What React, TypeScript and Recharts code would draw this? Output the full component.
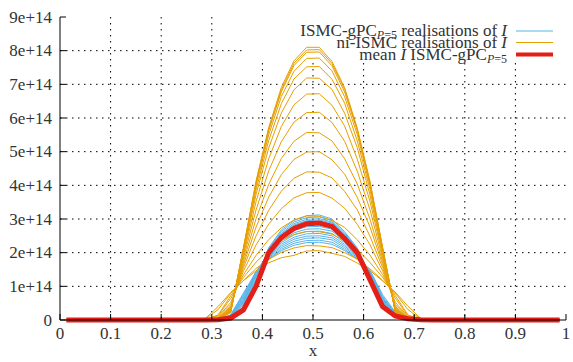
import React from 'react';
import { LineChart, Line, XAxis, YAxis, CartesianGrid } from 'recharts';

// x positions (cell centres)
const xs = [0.0125, 0.0375, 0.0625, 0.0875, 0.1125, 0.1375, 0.1625, 0.1875, 0.2125, 0.2375,
  0.2625, 0.2875, 0.3125, 0.3375, 0.3625, 0.3875, 0.4125, 0.4375, 0.4625, 0.4875,
  0.5125, 0.5375, 0.5625, 0.5875, 0.6125, 0.6375, 0.6625, 0.6875, 0.7125, 0.7375,
  0.7625, 0.7875, 0.8125, 0.8375, 0.8625, 0.8875, 0.9125, 0.9375, 0.9625, 0.9875];

// values (units of 1e14) for x = 0.2875 ... 0.7375; zero elsewhere
const FIRST = 11;

const ismcGpc = [
  [0, 0.01, 0.05, 0.28, 1.05, 2.15, 2.68, 2.96, 3.10, 3.12, 3.00, 2.62, 2.14, 1.25, 0.38, 0.08, 0.02, 0, 0],
  [0, 0.01, 0.08, 0.45, 1.15, 2.12, 2.63, 2.91, 3.04, 3.06, 2.95, 2.58, 2.12, 1.30, 0.45, 0.10, 0.02, 0, 0],
  [0, 0.01, 0.06, 0.35, 1.08, 2.10, 2.58, 2.86, 2.99, 3.01, 2.91, 2.55, 2.10, 1.22, 0.42, 0.12, 0.03, 0, 0],
  [0, 0.02, 0.10, 0.55, 1.30, 2.08, 2.55, 2.82, 2.95, 2.97, 2.88, 2.52, 2.08, 1.35, 0.52, 0.14, 0.03, 0, 0],
  [0, 0.01, 0.07, 0.40, 1.12, 2.06, 2.52, 2.79, 2.92, 2.93, 2.85, 2.50, 2.05, 1.28, 0.44, 0.10, 0.02, 0, 0],
  [0, 0.02, 0.12, 0.62, 1.38, 2.04, 2.48, 2.75, 2.88, 2.89, 2.81, 2.47, 2.03, 1.40, 0.58, 0.16, 0.03, 0, 0],
  [0, 0.01, 0.08, 0.38, 1.10, 2.00, 2.44, 2.71, 2.83, 2.84, 2.76, 2.44, 2.00, 1.26, 0.46, 0.12, 0.02, 0, 0],
  [0, 0.02, 0.13, 0.68, 1.42, 1.98, 2.40, 2.66, 2.77, 2.78, 2.70, 2.40, 1.98, 1.42, 0.62, 0.18, 0.04, 0, 0],
  [0, 0.01, 0.09, 0.48, 1.20, 1.95, 2.35, 2.59, 2.70, 2.71, 2.64, 2.35, 1.95, 1.32, 0.50, 0.13, 0.03, 0, 0],
  [0, 0.02, 0.14, 0.72, 1.45, 1.93, 2.30, 2.53, 2.63, 2.64, 2.57, 2.30, 1.93, 1.45, 0.66, 0.20, 0.04, 0, 0],
  [0, 0.02, 0.10, 0.52, 1.25, 1.90, 2.25, 2.46, 2.56, 2.57, 2.50, 2.25, 1.90, 1.36, 0.55, 0.15, 0.03, 0, 0],
  [0, 0.02, 0.15, 0.75, 1.40, 1.88, 2.20, 2.40, 2.49, 2.50, 2.44, 2.20, 1.88, 1.46, 0.70, 0.22, 0.05, 0, 0],
  [0, 0.02, 0.11, 0.58, 1.30, 1.85, 2.15, 2.34, 2.43, 2.44, 2.38, 2.15, 1.85, 1.40, 0.60, 0.16, 0.03, 0, 0],
  [0, 0.02, 0.16, 0.80, 1.42, 1.82, 2.10, 2.28, 2.36, 2.37, 2.31, 2.10, 1.82, 1.48, 0.75, 0.24, 0.05, 0, 0],
  [0, 0.02, 0.12, 0.62, 1.35, 1.80, 2.06, 2.22, 2.30, 2.31, 2.25, 2.06, 1.80, 1.42, 0.65, 0.18, 0.04, 0, 0],
];

const niIsmc = [
  [0, 0.02, 0.22, 2.14, 4.13, 5.72, 6.91, 7.70, 8.10, 8.10, 7.68, 6.90, 5.70, 4.12, 2.16, 0.24, 0.02, 0, 0],
  [0, 0.02, 0.24, 2.13, 4.09, 5.66, 6.84, 7.63, 8.02, 8.03, 7.62, 6.85, 5.65, 4.10, 2.15, 0.25, 0.02, 0, 0],
  [0, 0.02, 0.25, 2.12, 4.06, 5.62, 6.78, 7.56, 7.95, 7.96, 7.55, 6.77, 5.63, 4.07, 2.13, 0.26, 0.02, 0, 0],
  [0, 0.02, 0.26, 2.09, 3.98, 5.50, 6.64, 7.39, 7.77, 7.78, 7.40, 6.63, 5.51, 3.99, 2.10, 0.27, 0.02, 0, 0],
  [0, 0.03, 0.28, 2.05, 3.87, 5.33, 6.43, 7.16, 7.52, 7.53, 7.15, 6.44, 5.32, 3.88, 2.06, 0.29, 0.03, 0, 0],
  [0, 0.03, 0.30, 1.99, 3.73, 5.11, 6.15, 6.84, 7.19, 7.18, 6.85, 6.14, 5.12, 3.72, 2.00, 0.31, 0.03, 0, 0],
  [0, 0.03, 0.32, 1.92, 3.52, 4.79, 5.75, 6.39, 6.71, 6.72, 6.38, 5.76, 4.78, 3.53, 1.93, 0.33, 0.03, 0, 0],
  [0, 0.04, 0.34, 1.83, 3.27, 4.43, 5.30, 5.88, 6.16, 6.17, 5.87, 5.31, 4.42, 3.28, 1.84, 0.35, 0.04, 0, 0],
  [0, 0.05, 0.37, 1.73, 3.01, 4.03, 4.80, 5.31, 5.57, 5.56, 5.32, 4.79, 4.04, 3.00, 1.74, 0.38, 0.05, 0, 0],
  [0, 0.06, 0.40, 1.64, 2.76, 3.65, 4.32, 4.77, 4.99, 5.00, 4.76, 4.33, 3.64, 2.77, 1.65, 0.41, 0.06, 0, 0],
  [0, 0.08, 0.45, 1.55, 2.50, 3.26, 3.83, 4.21, 4.40, 4.39, 4.22, 3.82, 3.27, 2.49, 1.56, 0.46, 0.08, 0, 0],
  [0, 0.10, 0.52, 1.45, 2.23, 2.85, 3.31, 3.63, 3.78, 3.79, 3.62, 3.32, 2.84, 2.24, 1.46, 0.53, 0.10, 0, 0],
  [0.01, 0.13, 0.64, 1.34, 1.92, 2.39, 2.74, 2.97, 3.09, 3.08, 2.96, 2.75, 2.38, 1.93, 1.35, 0.65, 0.13, 0.01, 0],
  [0.02, 0.15, 0.72, 1.26, 1.72, 2.08, 2.36, 2.54, 2.63, 2.62, 2.55, 2.35, 2.09, 1.71, 1.27, 0.73, 0.15, 0.02, 0],
  [0.03, 0.31, 0.79, 1.17, 1.53, 1.80, 2.01, 2.14, 2.21, 2.20, 2.15, 2.00, 1.81, 1.52, 1.18, 0.80, 0.31, 0.03, 0],
  [0.05, 0.40, 0.82, 1.17, 1.46, 1.70, 1.85, 1.92, 2.05, 2.06, 1.98, 1.89, 1.69, 1.47, 1.16, 0.83, 0.41, 0.05, 0],
];

const meanIsmcGpc = [0, 0.01, 0.06, 0.30, 1.00, 2.00, 2.45, 2.72, 2.86, 2.88, 2.78, 2.42, 2.00, 1.20, 0.40, 0.12, 0.04, 0.01, 0];

const xTicks = [0, 0.1, 0.2, 0.3, 0.4, 0.5, 0.6, 0.7, 0.8, 0.9, 1];
const xTickLabels = ['0', '0.1', '0.2', '0.3', '0.4', '0.5', '0.6', '0.7', '0.8', '0.9', '1'];
const yTicks = [0, 1, 2, 3, 4, 5, 6, 7, 8, 9];
const yTickLabels = ['0', '1e+14', '2e+14', '3e+14', '4e+14', '5e+14', '6e+14', '7e+14', '8e+14', '9e+14'];

const BLUE = '#56b4e9';
const ORANGE = '#e69f00';
const RED = '#e41f17';
const TEXT = '#333333';
const FONT = "'Liberation Serif', 'Times New Roman', serif";
const FS = 17;

const pad = (vals: number[], i: number) => {
  const j = i - FIRST;
  return j >= 0 && j < vals.length ? vals[j] : 0;
};

const rows = xs.map((x, i) => {
  const r: Record<string, number> = { x };
  ismcGpc.forEach((s, k) => { r['b' + k] = pad(s, i); });
  niIsmc.forEach((s, k) => { r['o' + k] = pad(s, i); });
  r.mean = pad(meanIsmcGpc, i);
  return r;
});

// key box (opaque) hides grid in the top-right area
const KEY_LEFT = 245;
const KEY_BOTTOM = 63;
const PLOT = { left: 60, right: 566, top: 17, bottom: 320 };

const gridStyle = { stroke: '#000', strokeWidth: 1, strokeDasharray: '1.5 4.5' };

const HLine = (p: any) => {
  if (Math.abs(p.y1 - PLOT.top) < 1 || Math.abs(p.y1 - PLOT.bottom) < 1) return <g key={p.key} />;
  const x2 = p.y1 < KEY_BOTTOM ? KEY_LEFT : p.x2;
  return <line key={p.key} x1={p.x1} y1={p.y1} x2={x2} y2={p.y2} {...gridStyle} />;
};
const VLine = (p: any) => {
  if (Math.abs(p.x1 - PLOT.left) < 1 || Math.abs(p.x1 - PLOT.right) < 1) return <g key={p.key} />;
  const y1 = p.x1 > KEY_LEFT ? KEY_BOTTOM : p.y1;
  return <line key={p.key} x1={p.x1} y1={y1} x2={p.x2} y2={p.y2} {...gridStyle} />;
};

const BottomTick = (p: any) => (
  <g>
    <line x1={p.x} y1={p.y} x2={p.x} y2={p.y - 6} stroke="#000" />
    <text x={p.x} y={p.y + 19} textAnchor="middle" fontFamily={FONT} fontSize={FS} fill={TEXT}>
      {xTickLabels[xTicks.indexOf(p.payload.value)]}
    </text>
  </g>
);
const TopTick = (p: any) => (
  <line x1={p.x} y1={p.y} x2={p.x} y2={p.y + 6} stroke="#000" />
);
const LeftTick = (p: any) => (
  <g>
    <line x1={p.x} y1={p.y} x2={p.x + 6} y2={p.y} stroke="#000" />
    <text x={p.x - 8} y={p.y + 5.5} textAnchor="end" fontFamily={FONT} fontSize={FS} fill={TEXT}>
      {yTickLabels[yTicks.indexOf(p.payload.value)]}
    </text>
  </g>
);
const RightTick = (p: any) => (
  <line x1={p.x} y1={p.y} x2={p.x - 6} y2={p.y} stroke="#000" />
);

const Legend = () => (
  <svg width={573} height={70} style={{ position: 'absolute', left: 0, top: 0 }}>
    <g fontFamily={FONT} fontSize={FS} fill={TEXT}>
      <text x={507} y={36} textAnchor="end">
        ISMC-gPC<tspan fontSize={12} dy={3}><tspan fontStyle="italic">P</tspan>=5</tspan>
        <tspan dy={-3}> realisations of </tspan><tspan fontStyle="italic">I</tspan>
      </text>
      <text x={507} y={47.5} textAnchor="end">
        ni-ISMC realisations of <tspan fontStyle="italic">I</tspan>
      </text>
      <text x={507} y={59.5} textAnchor="end">
        mean <tspan fontStyle="italic">I</tspan> ISMC-gPC<tspan fontSize={12} dy={3}><tspan fontStyle="italic">P</tspan>=5</tspan>
      </text>
    </g>
    <line x1={516} y1={31} x2={553} y2={31} stroke={BLUE} strokeWidth={1} />
    <line x1={516} y1={42.5} x2={553} y2={42.5} stroke={ORANGE} strokeWidth={1} />
    <line x1={516} y1={54.5} x2={553} y2={54.5} stroke={RED} strokeWidth={4} />
  </svg>
);

export default function App() {
  return (
    <div style={{ position: 'absolute', left: 0, top: 0, width: 573, height: 362, background: '#fff' }}>
      <LineChart width={573} height={362} data={rows} margin={{ top: 17, right: 7, bottom: 0, left: 0 }}>
        <CartesianGrid horizontal={HLine} vertical={VLine} />
        <XAxis dataKey="x" type="number" domain={[0, 1]} ticks={xTicks} interval={0} height={42}
          tickSize={0} tickMargin={0} tickLine={false} tick={BottomTick} axisLine={{ stroke: '#000' }}
          label={{ value: 'x', position: 'insideBottom', offset: 6, fill: TEXT, fontSize: FS, fontFamily: FONT }} />
        <XAxis xAxisId="top" orientation="top" dataKey="x" type="number" domain={[0, 1]} ticks={xTicks}
          interval={0} height={0} tickSize={0} tickMargin={0} tickLine={false} tick={TopTick} axisLine={{ stroke: '#000' }} />
        <YAxis type="number" domain={[0, 9]} ticks={yTicks} interval={0} width={60}
          tickSize={0} tickMargin={0} tickLine={false} tick={LeftTick} axisLine={{ stroke: '#000' }} />
        <YAxis yAxisId="right" orientation="right" type="number" domain={[0, 9]} ticks={yTicks} interval={0} width={0}
          tickSize={0} tickMargin={0} tickLine={false} tick={RightTick} axisLine={{ stroke: '#000' }} />
        {ismcGpc.map((_, k) => (
          <Line key={'b' + k} dataKey={'b' + k} type="linear" stroke={BLUE} strokeWidth={1}
            dot={false} activeDot={false} isAnimationActive={false} />
        ))}
        {niIsmc.map((_, k) => (
          <Line key={'o' + k} dataKey={'o' + k} type="linear" stroke={ORANGE} strokeWidth={1}
            dot={false} activeDot={false} isAnimationActive={false} />
        ))}
        <Line dataKey="mean" type="linear" stroke={RED} strokeWidth={5} dot={false} activeDot={false}
          isAnimationActive={false} />
      </LineChart>
      <Legend />
    </div>
  );
}
